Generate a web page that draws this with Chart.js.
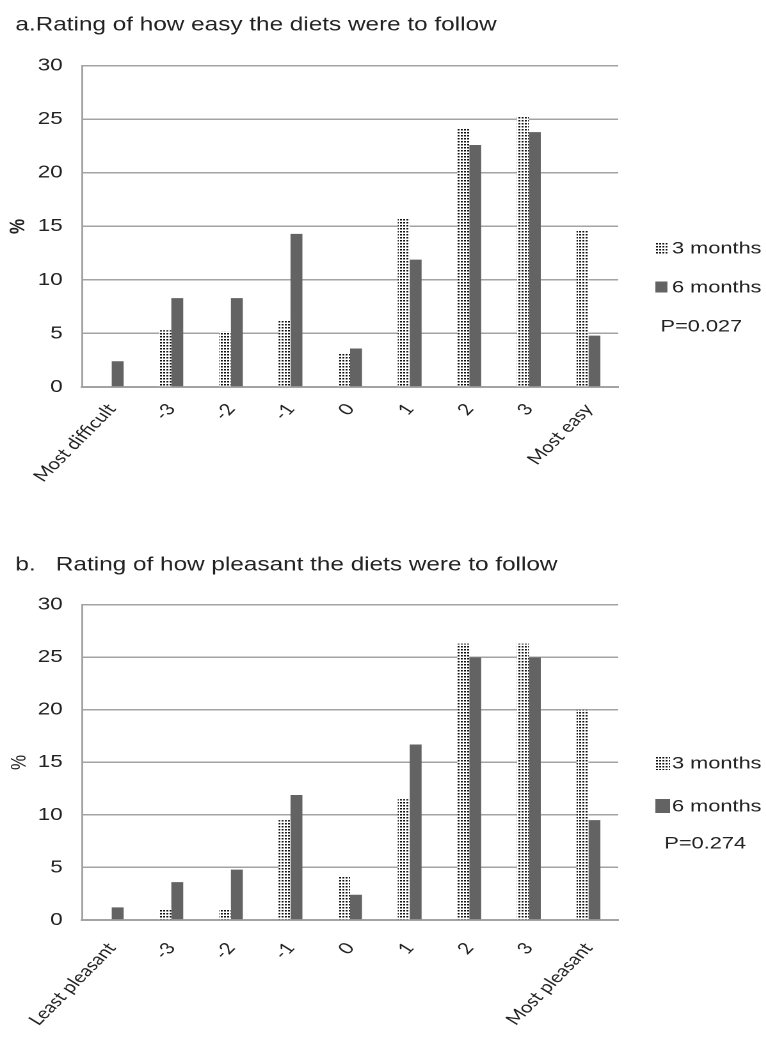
<!DOCTYPE html>
<html lang="en">

<head>
    <meta charset="UTF-8">
    <title>Diet rating</title>
    <script src="https://cdn.jsdelivr.net/npm/chart.js"></script>
    <style>
        body {
            margin: 0;
            background: #fff;
            overflow: hidden;
        }

        /* the original figure is stretched sideways, so are we */
        canvas {
            display: block;
            transform: scaleX(1.28);
            transform-origin: 0 0;
        }
    </style>
</head>

<body>
    <canvas id="easyChart" width="598" height="520"></canvas>
    <canvas id="pleasantChart" width="598" height="519"></canvas>

    <script>
        // data (% of participants)
        const seriesLabels = ['3 months', '6 months'];
        const easyCategories = ['Most difficult', '-3', '-2', '-1', '0', '1', '2', '3', 'Most easy'];
        const easy3m = [0, 5.3, 5.2, 6.3, 3.2, 15.8, 24.2, 25.3, 14.7];
        const easy6m = [2.4, 8.3, 8.3, 14.3, 3.6, 11.9, 22.6, 23.8, 4.8];
        const pleasantCategories = ['Least pleasant', '-3', '-2', '-1', '0', '1', '2', '3', 'Most pleasant'];
        const pleasant3m = [0, 1.1, 1.1, 9.5, 4.2, 11.5, 26.3, 26.3, 20.0];
        const pleasant6m = [1.2, 3.6, 4.8, 11.9, 2.4, 16.7, 25.0, 25.0, 9.5];
        const yMax = 30;
        const yStep = 5;

        const darkGray = '#636363';
        const gridGray = '#a3a3a3';
        const sans = '"Liberation Sans", Arial, sans-serif';

        // dotted fill for the 3 month bars (tile drawn at device pixels)
        function dotPattern() {
            const c = document.createElement('canvas');
            c.width = 5;
            c.height = 6;
            const g = c.getContext('2d');
            g.fillStyle = '#fff';
            g.fillRect(0, 0, 5, 6);
            g.fillStyle = '#111';
            g.fillRect(0, 0, 3, 3);
            const p = g.createPattern(c, 'repeat');
            p.setTransform(new DOMMatrix().scale(0.5));
            return p;
        }
        const dots = dotPattern();

        // legend + p value on the right side
        const sideLegend = {
            id: 'sideLegend',
            afterDraw(chart, args, opts) {
                const ctx = chart.ctx;
                ctx.save();
                ctx.font = '17px ' + sans;
                ctx.textBaseline = 'middle';
                const fills = [dots, darkGray];
                seriesLabels.forEach((lab, i) => {
                    const y = opts.ys[i];
                    ctx.fillStyle = fills[i];
                    ctx.fillRect(opts.x, y - opts.box[1] / 2, opts.box[0], opts.box[1]);
                    ctx.fillStyle = '#222';
                    ctx.fillText(lab, opts.textX, y + 1);
                });
                ctx.fillText(opts.pText, opts.pX, opts.ys[2] + 1);
                ctx.restore();
            }
        };

        function makeChart(id, cats, d3, d6, cfg) {
            const ctx = document.getElementById(id).getContext('2d');
            return new Chart(ctx, {
                type: 'bar',
                data: {
                    labels: cats,
                    datasets: [{
                        label: seriesLabels[0],
                        data: d3,
                        backgroundColor: dots,
                        borderWidth: 0,
                        barPercentage: 1.0,
                        categoryPercentage: 0.4
                    }, {
                        label: seriesLabels[1],
                        data: d6,
                        backgroundColor: darkGray,
                        borderWidth: 0,
                        barPercentage: 1.0,
                        categoryPercentage: 0.4
                    }]
                },
                options: {
                    responsive: false,
                    animation: false,
                    devicePixelRatio: 2,
                    layout: {
                        padding: { left: 12, right: 115, top: 0, bottom: 0 }
                    },
                    plugins: {
                        legend: { display: false },
                        tooltip: { enabled: false },
                        title: {
                            display: true,
                            text: cfg.title,
                            align: 'start',
                            color: '#222',
                            font: { family: sans, size: 19, weight: 'normal' },
                            padding: cfg.titlePad
                        },
                        sideLegend: cfg.legend
                    },
                    scales: {
                        x: {
                            grid: { display: false },
                            border: { color: gridGray, width: 2 },
                            ticks: {
                                color: '#222',
                                maxRotation: 52,
                                minRotation: 52,
                                autoSkip: false,
                                padding: cfg.xPad,
                                font: { family: 'Lato, "Open Sans", sans-serif', size: 16 }
                            },
                            afterFit: s => { s.height = cfg.xHeight; }
                        },
                        y: {
                            min: 0,
                            max: yMax,
                            ticks: {
                                stepSize: yStep,
                                color: '#222',
                                padding: 15,
                                font: { family: sans, size: 17.5 }
                            },
                            grid: { color: gridGray, lineWidth: 1.5, drawTicks: false },
                            border: { color: gridGray, width: 1.5 },
                            title: {
                                display: true,
                                text: '%',
                                color: '#222',
                                padding: { top: cfg.pctPad, bottom: 0 },
                                font: { family: sans, size: 17, weight: cfg.pctWeight }
                            },
                            afterFit: s => { s.width = 52; }
                        }
                    }
                },
                plugins: [sideLegend]
            });
        }

        makeChart('easyChart', easyCategories, easy3m, easy6m, {
            title: 'a.Rating of how easy the diets were to follow',
            titlePad: { top: 14, bottom: 29 },
            xHeight: 133,
            xPad: 5,
            pctWeight: 'bold',
            pctPad: -8,
            legend: { x: 512, box: [9.4, 11], textX: 525, pX: 516, ys: [248, 287, 326], pText: 'P=0.027' }
        });

        makeChart('pleasantChart', pleasantCategories, pleasant3m, pleasant6m, {
            title: 'b.   Rating of how pleasant the diets were to follow',
            titlePad: { top: 34, bottom: 28 },
            xHeight: 119,
            xPad: 11,
            pctWeight: 'normal',
            pctPad: -7,
            legend: { x: 512, box: [11.5, 14], textX: 525, pX: 519, ys: [243, 286, 323], pText: 'P=0.274' }
        });
    </script>
</body>

</html>
